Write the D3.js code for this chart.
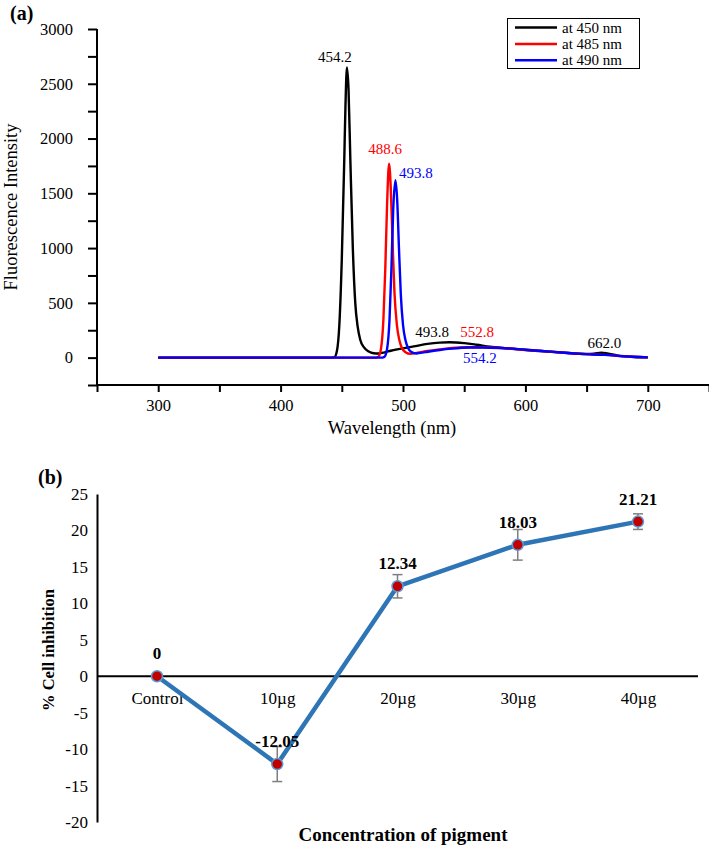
<!DOCTYPE html>
<html><head><meta charset="utf-8">
<script src="https://cdn.jsdelivr.net/npm/d3@7"></script>
<style>
html,body{margin:0;padding:0;background:#fff;}
svg, svg text{font-family:"Liberation Serif","Times New Roman",Times,Tinos,"DejaVu Serif",serif !important;}
</style></head>
<body>
<svg id="c" width="709" height="847"></svg>
<script>
// ---------- Panel (a): fluorescence spectra ----------
const wl450 = [300,440,444,446,448,450,452,453,454.2,455.5,457,459,461,463,465,468,472,476,480,485,490,500,510,520,530,538,550,560,571,585,600,612,625,638,650,656,662,667,675,688,700];
const int450 = [0,0,5,60,300,900,1800,2300,2650,2450,1800,1000,500,280,165,95,55,40,38,48,63,85,105,125,137,140,132,118,100,85,70,60,50,40,33,36,45,38,20,6,2];
const wl485 = [300,478,480,482,484,485.5,487,488.6,490,491.5,493,495,497,499,502,506,512,520,530,540,552.8,565,580,600,620,640,655,665,680,700];
const int485 = [0,0,10,80,350,800,1400,1770,1550,1050,600,300,160,90,50,35,45,60,75,88,95,95,88,72,55,38,28,25,12,2];
const wl490 = [300,483,485,487,489,490.5,492,493.8,495.2,496.7,498.2,500,502,504,507,511,518,530,540,554.2,565,580,600,620,640,655,665,680,700];
const int490 = [0,0,10,80,350,800,1350,1620,1450,1000,580,300,160,90,50,38,50,70,82,92,93,88,72,55,38,28,25,12,2];
const seriesNames = ["at 450 nm","at 485 nm","at 490 nm"];
const seriesColors = ["#000000","#ff0000","#0000ff"];
const xTicksA = [250,300,350,400,450,500,550,600,650,700,750];
const yTicksA = [-250,0,250,500,750,1000,1250,1500,1750,2000,2250,2500,2750,3000];
// peak annotations: text, colour index, label x (nm), label baseline (intensity)
const peakText = ["454.2","488.6","493.8","493.8","552.8","554.2","662.0"];
const peakSeries = [0,1,2,0,1,2,0];
const peakLx = [444.4,485.3,510.6,523.7,560.5,562.9,664.6];
const peakLy = [2699,1859,1640,188,188,-49,88];

// ---------- Panel (b): cell inhibition ----------
const categories = ["Control","10\u00b5g","20\u00b5g","30\u00b5g","40\u00b5g"];
const inhibition = [0,-12.05,12.34,18.03,21.21];
const errors = [0,2.4,1.6,2.1,1.07];
const yTicksB = [-20,-15,-10,-5,0,5,10,15,20,25];

const FONT = '"Liberation Serif","Times New Roman",Times,Tinos,"DejaVu Serif",serif';
const svg = d3.select("#c");

// ===== Panel a =====
const xA = d3.scaleLinear().domain([250,750]).range([97,709]);
const yA = d3.scaleLinear().domain([-250,3000]).range([385,29]);

const gxA = svg.append("g").attr("transform","translate(0,385)")
  .call(d3.axisBottom(xA).tickValues(xTicksA).tickSize(7).tickPadding(7)
    .tickFormat(d => (d%100===0 && d>=300 && d<=700) ? String(d) : ""));
const gyA = svg.append("g").attr("transform","translate(97,0)")
  .call(d3.axisLeft(yA).tickValues(yTicksA).tickSize(9).tickPadding(15)
    .tickFormat(d => (d%500===0 && d>=0) ? String(d) : ""));
[gxA,gyA].forEach(g=>{
  g.attr("font-family",FONT);
  g.select(".domain").attr("stroke","#000").attr("stroke-width",2);
  g.selectAll(".tick line").attr("stroke","#000").attr("stroke-width",2);
  g.selectAll("text").attr("font-size",16.5).attr("fill","#000");
});
gyA.select(".domain").attr("d","M0,29V385");
gxA.select(".domain").attr("d","M97,0H709");

const lineA = d3.line().x(d=>xA(d[0])).y(d=>yA(d[1])).curve(d3.curveMonotoneX);
const seriesData = [
  d3.zip(wl450,int450), d3.zip(wl485,int485), d3.zip(wl490,int490)
];
seriesData.forEach((s,i)=>{
  svg.append("path").datum(s).attr("d",lineA).attr("fill","none")
    .attr("stroke",seriesColors[i]).attr("stroke-width",2.4).attr("stroke-linejoin","round");
});

peakText.forEach((t,i)=>{
  svg.append("text").attr("x",xA(peakLx[i])).attr("y",yA(peakLy[i]))
    .attr("text-anchor","middle").attr("font-size",15)
    .attr("fill",seriesColors[peakSeries[i]]).text(t);
});

// legend
const leg = svg.append("g");
leg.append("rect").attr("x",507.5).attr("y",18.5).attr("width",132).attr("height",50)
  .attr("fill","#fff").attr("stroke","#000").attr("stroke-width",1);
seriesNames.forEach((n,i)=>{
  const yy = 27.5 + i*16.4;
  leg.append("line").attr("x1",515).attr("x2",557).attr("y1",yy).attr("y2",yy)
    .attr("stroke",seriesColors[i]).attr("stroke-width",2.5);
  leg.append("text").attr("x",562).attr("y",yy+5).attr("font-size",15).attr("fill","#000").text(n);
});

svg.append("text").attr("x",392).attr("y",434).attr("text-anchor","middle")
  .attr("font-size",18.5).text("Wavelength (nm)");
svg.append("text").attr("transform","translate(17,207) rotate(-90)").attr("text-anchor","middle")
  .attr("font-size",18.5).text("Fluorescence Intensity");
svg.append("text").attr("x",10).attr("y",20).attr("font-size",20).attr("font-weight","bold").text("(a)");

// ===== Panel b =====
const xB = d3.scalePoint().domain(categories).range([157,638]);
const yB = d3.scaleLinear().domain([-20,25]).range([822,494]);

const gyB = svg.append("g").attr("transform","translate(97,0)")
  .call(d3.axisLeft(yB).tickValues(yTicksB).tickSize(0).tickPadding(9).tickFormat(d=>String(d)));
gyB.attr("font-family",FONT);
gyB.select(".domain").attr("stroke","#000").attr("stroke-width",2);
gyB.selectAll("text").attr("font-size",17).attr("fill","#000");

// zero line with category labels
const gxB = svg.append("g").attr("transform",`translate(0,${yB(0)})`)
  .call(d3.axisBottom(xB).tickSize(0).tickPadding(16));
gxB.attr("font-family",FONT);
gxB.select(".domain").attr("d","M97,0H698").attr("stroke","#000").attr("stroke-width",2);
gxB.selectAll("text").attr("font-size",17).attr("fill","#000");

// error bars
const eb = svg.append("g").attr("stroke","#7f7f7f").attr("stroke-width",1.5);
categories.forEach((c,i)=>{
  if(!errors[i]) return;
  const x = xB(c), y1 = yB(inhibition[i]+errors[i]), y2 = yB(inhibition[i]-errors[i]);
  eb.append("line").attr("x1",x).attr("x2",x).attr("y1",y1).attr("y2",y2);
  eb.append("line").attr("x1",x-5).attr("x2",x+5).attr("y1",y1).attr("y2",y1);
  eb.append("line").attr("x1",x-5).attr("x2",x+5).attr("y1",y2).attr("y2",y2);
});

const ptsB = categories.map((c,i)=>[xB(c), yB(inhibition[i])]);
svg.append("path").datum(ptsB).attr("d",d3.line()).attr("fill","none")
  .attr("stroke","#2e75b6").attr("stroke-width",4.5).attr("stroke-linejoin","round");
svg.append("g").selectAll("circle").data(ptsB).join("circle")
  .attr("cx",d=>d[0]).attr("cy",d=>d[1]).attr("r",5.5)
  .attr("fill","#c00000").attr("stroke","#5b9bd5").attr("stroke-width",1.5);

svg.append("g").selectAll("text").data(categories).join("text")
  .attr("x",d=>xB(d)).attr("y",(d,i)=>yB(inhibition[i])-17)
  .attr("text-anchor","middle").attr("font-size",17).attr("font-weight","bold")
  .text((d,i)=>String(inhibition[i]));

svg.append("text").attr("x",403).attr("y",841).attr("text-anchor","middle")
  .attr("font-size",19).attr("font-weight","bold").text("Concentration of pigment");
svg.append("text").attr("transform","translate(54,650) rotate(-90)").attr("text-anchor","middle")
  .attr("font-size",16.5).attr("font-weight","bold").text("% Cell inhibition");
svg.append("text").attr("x",38).attr("y",484).attr("font-size",20).attr("font-weight","bold").text("(b)");
</script>
</body></html>
